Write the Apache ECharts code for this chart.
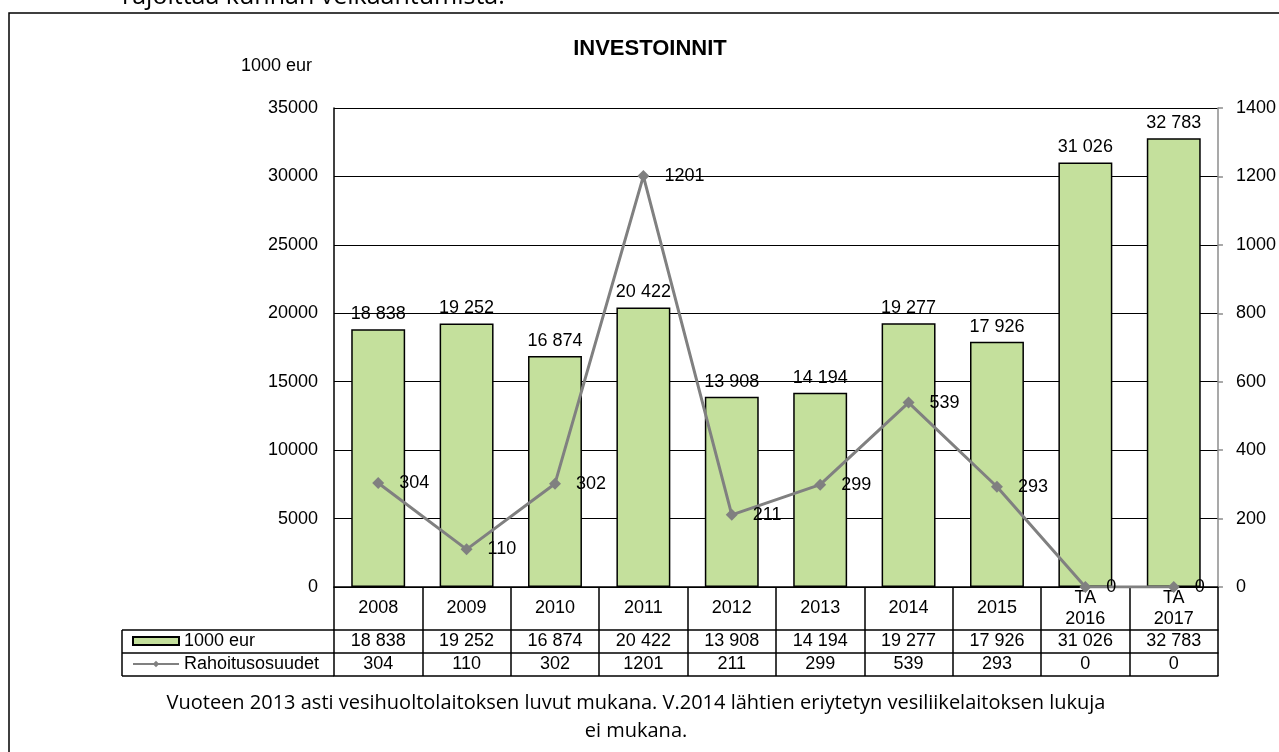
<!DOCTYPE html>
<html lang="fi">
<head>
<meta charset="UTF-8">
<title>Investoinnit</title>
<style>
  html, body { margin: 0; padding: 0; background: #fff; }
  #chart { width: 1279px; height: 752px; }
</style>
</head>
<body>
<div id="chart"></div>
<script src="https://cdn.jsdelivr.net/npm/echarts@6/dist/echarts.min.js"></script>
<script>
// vuodet / sarakkeet
var categories = ['2008', '2009', '2010', '2011', '2012', '2013', '2014', '2015', 'TA\n2016', 'TA\n2017'];
// investoinnit, 1000 eur
var investoinnit = [18838, 19252, 16874, 20422, 13908, 14194, 19277, 17926, 31026, 32783];
// rahoitusosuudet
var rahoitus = [304, 110, 302, 1201, 211, 299, 539, 293, 0, 0];

var leftTicks = { min: 0, max: 35000, interval: 5000 };
var rightTicks = { min: 0, max: 1400, interval: 200 };

// layout
var W = 1279, H = 752;
var gridLeft = 334, gridRight = 59, gridTop = 108, gridBottom = 165;
var row1 = 43, row2 = 23, row3 = 23;
var legendColLeft = 122;
var font = 'Liberation Sans, Arial, sans-serif';
var fs = 18;

function spaced(v) {
  return String(v).replace(/\B(?=(\d{3})+(?!\d))/g, ' ');
}

var chart = echarts.init(document.getElementById('chart'));

var tableTop = H - gridBottom;
var y2 = tableTop + row1, y3 = y2 + row2, y4 = y3 + row3;

// pöydän rivit tehdään kategoria-akseleilla
function tableAxis(offset, tickLen, labels) {
  return {
    type: 'category',
    data: categories,
    position: 'bottom',
    offset: offset,
    axisLine: { show: true, onZero: false, lineStyle: { color: '#000', width: 1.5 } },
    axisTick: { show: tickLen > 0, interval: 0, length: tickLen, lineStyle: { color: '#000', width: 1.5 } },
    axisLabel: {
      show: !!labels,
      interval: 0,
      margin: tickLen / 2,
      verticalAlign: 'middle',
      color: '#000',
      fontFamily: font,
      fontSize: fs,
      lineHeight: 21,
      formatter: function (v, i) { return labels ? labels[i] : ''; }
    },
    splitLine: { show: false }
  };
}

option = {
  animation: false,
  textStyle: { fontFamily: font },
  title: {
    text: 'INVESTOINNIT',
    left: 645,
    textAlign: 'center',
    top: 33,
    textStyle: { fontFamily: font, fontSize: 22, fontWeight: 'bold', color: '#000' }
  },
  legend: {
    orient: 'vertical',
    left: legendColLeft + 10,
    top: y2 + 2,
    padding: 0,
    itemWidth: 46,
    itemHeight: 8,
    itemGap: 5,
    selectedMode: false,
    textStyle: { fontFamily: font, fontSize: fs, lineHeight: 18, color: '#000' },
    data: [{ name: '1000 eur', icon: 'rect' }, { name: 'Rahoitusosuudet' }]
  },
  grid: { left: gridLeft, right: gridRight, top: gridTop, bottom: gridBottom },
  xAxis: [
    tableAxis(0, row1, categories),
    tableAxis(row1, row2, investoinnit.map(spaced)),
    tableAxis(row1 + row2, row3, rahoitus.map(String)),
    tableAxis(row1 + row2 + row3, 0, null)
  ],
  yAxis: [
    {
      type: 'value',
      min: leftTicks.min, max: leftTicks.max, interval: leftTicks.interval,
      name: '1000 eur',
      nameLocation: 'end',
      nameGap: 42,
      nameTextStyle: { align: 'right', verticalAlign: 'middle', padding: [0, 22, 0, 0], fontSize: fs, color: '#000', fontFamily: font },
      axisLine: { show: true, lineStyle: { color: '#000', width: 1.5 } },
      axisTick: { show: false },
      axisLabel: { margin: 16, fontSize: fs, color: '#000', fontFamily: font, formatter: function (v) { return String(v); } },
      splitLine: { show: true, lineStyle: { color: '#000', width: 1.2 } }
    },
    {
      type: 'value',
      position: 'right',
      min: rightTicks.min, max: rightTicks.max, interval: rightTicks.interval,
      axisLine: { show: true, lineStyle: { color: '#8c8c8c', width: 1.5 } },
      axisTick: { show: true, length: 5, lineStyle: { color: '#8c8c8c', width: 1.5 } },
      axisLabel: { margin: 18, fontSize: fs, color: '#000', fontFamily: font, formatter: function (v) { return String(v); } },
      splitLine: { show: false }
    }
  ],
  series: [
    {
      name: '1000 eur',
      type: 'bar',
      data: investoinnit,
      barWidth: '61%',
      itemStyle: { color: '#C4E09C', borderColor: '#000', borderWidth: 1.5 },
      label: {
        show: true, position: 'top', distance: 6,
        fontSize: fs, color: '#000', fontFamily: font,
        formatter: function (p) { return spaced(p.value); }
      }
    },
    {
      name: 'Rahoitusosuudet',
      type: 'line',
      yAxisIndex: 1,
      data: rahoitus,
      symbol: 'diamond',
      symbolSize: 12,
      itemStyle: { color: '#808080' },
      lineStyle: { color: '#808080', width: 3 },
      label: {
        show: true, position: 'right', distance: 15,
        fontSize: fs, color: '#000', fontFamily: font
      },
      z: 5
    }
  ],
  graphic: [
    // ulkokehys
    { type: 'rect', shape: { x: 9, y: 13, width: W + 50, height: H + 50 }, style: { fill: 'none', stroke: '#000', lineWidth: 1.5 }, silent: true },
    // yläpuolelta leikkautuva leipäteksti
    { type: 'text', x: 122, y: 9, style: { text: 'rajoittaa kunnan velkaantumista.', font: '25px "Open Sans", sans-serif', fill: '#000', verticalAlign: 'bottom' } },
    // legendasarake
    { type: 'line', shape: { x1: legendColLeft, y1: y2, x2: gridLeft, y2: y2 }, style: { stroke: '#000', lineWidth: 1.5 } },
    { type: 'line', shape: { x1: legendColLeft, y1: y3, x2: gridLeft, y2: y3 }, style: { stroke: '#000', lineWidth: 1.5 } },
    { type: 'line', shape: { x1: legendColLeft, y1: y4, x2: gridLeft, y2: y4 }, style: { stroke: '#000', lineWidth: 1.5 } },
    { type: 'line', shape: { x1: legendColLeft, y1: y2, x2: legendColLeft, y2: y4 }, style: { stroke: '#000', lineWidth: 1.5 } },
    // alaviite
    {
      type: 'text', x: 636, y: 689,
      style: {
        text: 'Vuoteen 2013 asti vesihuoltolaitoksen luvut mukana. V.2014 lähtien eriytetyn vesiliikelaitoksen lukuja\nei mukana.',
        font: '20px "Open Sans", sans-serif', fill: '#000', align: 'center', verticalAlign: 'top', lineHeight: 28
      }
    }
  ]
};

chart.setOption(option);
</script>
</body>
</html>
